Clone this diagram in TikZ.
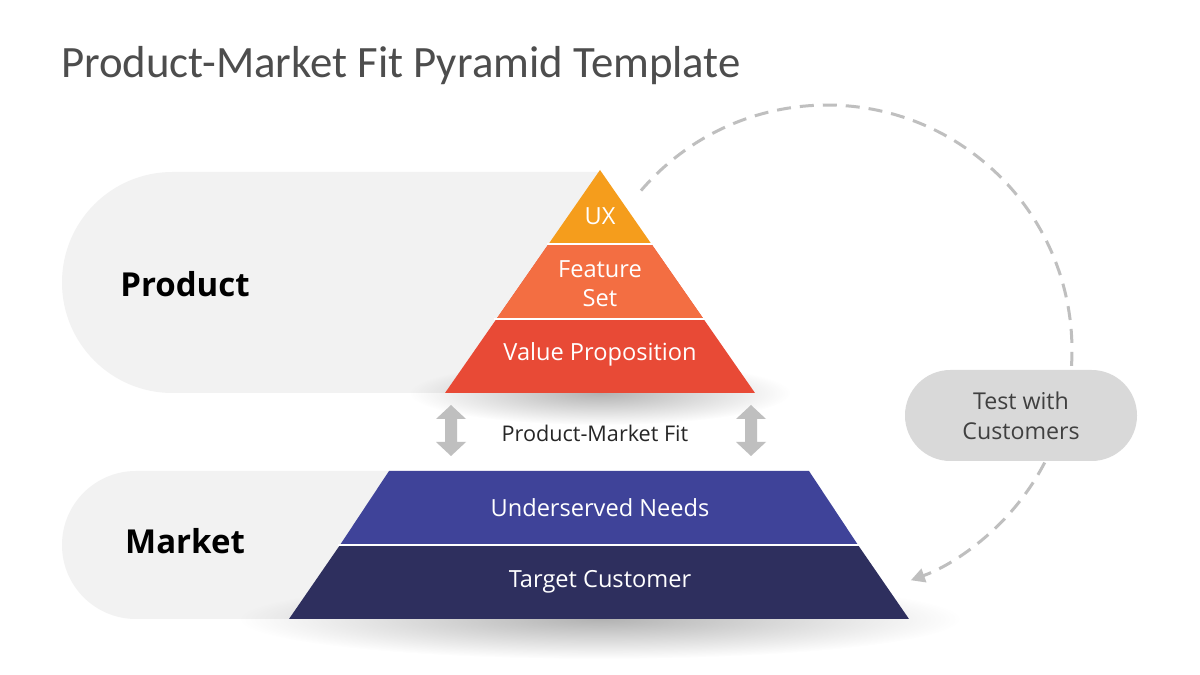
\documentclass[tikz,border=0pt]{standalone}
\usepackage{fontspec}
\setmainfont{Open Sans}
\newfontfamily\titlefont{Carlito}
\usetikzlibrary{positioning}
\usetikzlibrary{calc}
\usetikzlibrary{arrows.meta}
\usetikzlibrary{fadings}

\definecolor{titlegray}{HTML}{4D4D4D}
\definecolor{pilllight}{HTML}{F2F2F2}
\definecolor{pilldark}{HTML}{D9D9D9}
\definecolor{loopgray}{HTML}{BFBFBF}
\definecolor{uxorange}{HTML}{F59D1C}
\definecolor{featorange}{HTML}{F36E42}
\definecolor{valuered}{HTML}{E84A36}
\definecolor{needsblue}{HTML}{3F4399}
\definecolor{custnavy}{HTML}{2E2F5E}

\tikzfading[name=softfade,inner color=transparent!0,outer color=transparent!100]

\begin{document}
\begin{tikzpicture}[x=0.5pt,y=0.5pt,
		layertext/.style={text=white,align=center,font=\fontsize{11.8}{14.5}\selectfont},
		sidetext/.style={text=black,font=\bfseries\fontsize{16.5}{20}\selectfont},
		soft/.style={fill=black,opacity=0.3,path fading=softfade}]
		\tikzstyle{gap}=[draw=white,line width=1pt]
		\tikzstyle{loopline}=[draw=loopgray,line width=1.5pt,dash pattern=on 7pt off 4.5pt,-{Triangle[length=7pt,width=7pt]}]
		
		\useasboundingbox (0,0) rectangle (1200,675);
		\fill[white] (0,0) rectangle (1200,675);
		
		\node[anchor=west,text=titlegray,font=\titlefont\fontsize{22.4}{27}\selectfont] (title) at (54,609) {Product-Market Fit Pyramid Template};
		
		% gray bands behind the pyramid
		\fill[pilllight] (600,503) -- (172.5,503) arc[start angle=90,end angle=270,radius=110.5] -- (600,282) -- cycle;
		\fill[pilllight] (600,204) -- (136,204) arc[start angle=90,end angle=270,radius=74] -- (600,56) -- cycle;
		
		% soft shadows
		\path[soft] (600,282) ellipse [x radius=190,y radius=32];
		\path[soft] (600,56) ellipse [x radius=360,y radius=40];
		
		% product pyramid
		\fill[valuered] (548.6,431) -- (651.4,431) -- (755,282) -- (445,282) -- cycle;
		\fill[featorange] (548.6,431) -- (651.4,431) -- (703.6,356) -- (496.4,356) -- cycle;
		\fill[uxorange] (600,505) -- (651.4,431) -- (548.6,431) -- cycle;
		\draw[gap] (547,431) -- (653,431);
		\draw[gap] (494,356) -- (706,356);
		
		% market pyramid
		\fill[custnavy] (340,130) -- (858,130) -- (909,56) -- (289,56) -- cycle;
		\fill[needsblue] (389,204) -- (809,204) -- (858,130) -- (340,130) -- cycle;
		\draw[gap] (338,130) -- (860,130);
		
		\node[layertext] (ux)     at (600,459) {UX};
		\node[layertext] (feat)   at (600,391.5) {Feature\\Set};
		\node[layertext] (value)  at (600,321) {Value Proposition};
		\node[layertext] (needs)  at (600,167) {Underserved Needs};
		\node[layertext] (target) at (600,93) {Target Customer};
		
		\node[sidetext] (product) at (185,391) {Product};
		\node[sidetext] (market)  at (185,134) {Market};
		
		% fit arrows
		\foreach \ax in {451,751}
		\fill[loopgray] (\ax,270) -- ++(15,-14) -- ++(-9,0) -- ++(0,-23) -- ++(9,0) -- (\ax,219)
		-- ++(-15,14) -- ++(9,0) -- ++(0,23) -- ++(-9,0) -- cycle;
		\node[text=black!85,font=\fontsize{10.8}{13}\selectfont] (fit) at (595,242) {Product-Market Fit};
		
		% test loop
		\coordinate (loopstart) at (641,484.4);
		\draw[loopline] (loopstart) arc[start angle=139.4,end angle=-70,radius=245] coordinate (loopend);
		\node[fill=pilldark,rounded corners=22.7pt,minimum width=116pt,minimum height=45.5pt,
		text=black!75,align=center,font=\fontsize{11.6}{15}\selectfont] (test) at (1021,259.5) {Test with\\Customers};
		
\end{tikzpicture}
\end{document}
